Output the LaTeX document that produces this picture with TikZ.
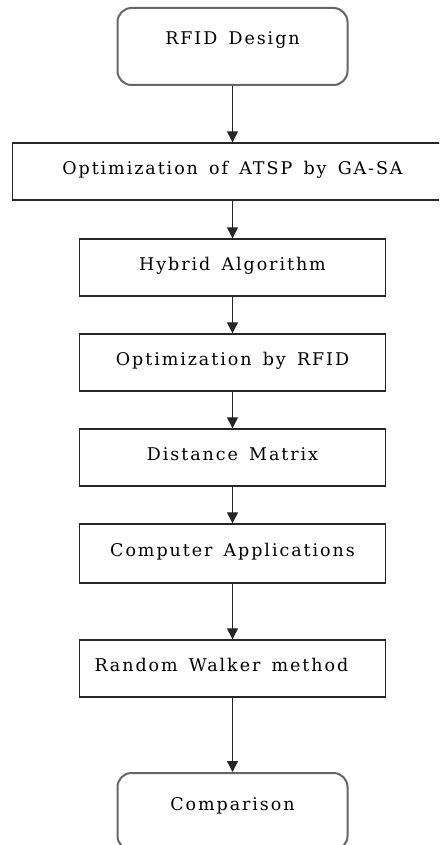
\documentclass[tikz,border=0pt]{standalone}
\usepackage{fontspec}
\setmainfont[LetterSpace=11,WordSpace=1.5]{DejaVu Serif}
\usetikzlibrary{arrows.meta,positioning}

\tikzset{
    stepbox/.style={draw=black!85, line width=1.4pt, minimum width=306pt, minimum height=57pt,
        inner sep=0pt, text height=12.5pt, text depth=6pt, font=\fontsize{17.5}{21}\selectfont},
    endbox/.style={draw=black!60, line width=2pt, rounded corners=14pt, minimum width=230pt,
        minimum height=77pt, inner sep=0pt, text height=12.5pt, text depth=15.5pt,
        font=\fontsize{17.5}{21}\selectfont},
    flow/.style={-{Triangle[length=11pt,width=11pt]}, line width=1.3pt, black!85}
}

\begin{document}
\begin{tikzpicture}[x=1pt, y=-1pt]
        \useasboundingbox (0,0) rectangle (439,845);
        \clip (0,0) rectangle (439,845);
        \node[endbox] (design) at (232.5,46.5) {RFID Design};
        \node[stepbox, minimum width=440pt] (atsp) at (232.5,171.5) {Optimization of ATSP by GA-SA};
        \node[stepbox] (hybrid) at (232.5,267.5) {Hybrid Algorithm};
        \node[stepbox] (rfid) at (232.5,362.5) {Optimization by RFID};
        \node[stepbox] (matrix) at (232.5,457.5) {Distance Matrix};
        \node[stepbox, minimum height=59pt] (apps) at (232.5,553.5) {Computer Applications};
        \node[stepbox] (walker) at (232.5,668.5) {\makebox[276pt][l]{Random Walker method}};
        \node[endbox] (compare) at (232.5,811.5) {Comparison};

        \foreach \a/\b in
        {design/atsp,
         atsp/hybrid,
         hybrid/rfid,
         rfid/matrix,
         matrix/apps,
         apps/walker,
         walker/compare}
        {
            \draw[flow] (\a) -- (\b);
        };
\end{tikzpicture}
\end{document}
